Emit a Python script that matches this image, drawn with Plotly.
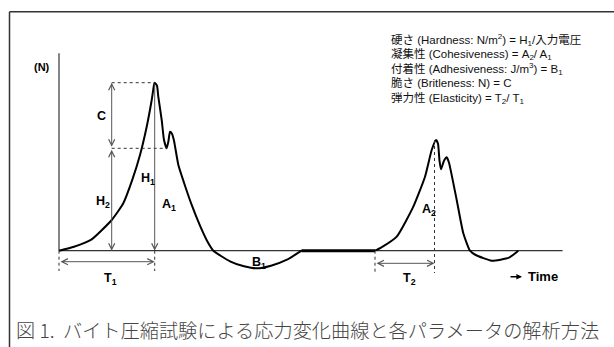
import plotly.graph_objects as go

# ---- data (time units, force units) ----
cycle1_t = [0, 15, 32.7, 52.7, 64.3, 73, 81, 87.7, 92.7, 95, 95.7, 98, 99.3, 102.7, 105, 107.7,
            109.5, 111, 113, 115, 119.3, 125, 133, 141, 148, 154.4, 171, 185, 197.5, 212, 228, 242.5]
cycle1_f = [0, 4, 11.4, 30.7, 47.4, 70, 95.7, 124, 150.7, 165.7, 168, 165, 154, 130.7, 110.7, 102.4,
            110, 119, 117, 110, 86, 68, 45, 25, 10, 0, -10.6, -15.6, -17.6, -15, -9, 0]
rest_t = [242.5, 316]
rest_f = [0, 0]
cycle2_t = [316, 322, 337.7, 354.3, 366, 372.7, 377, 379, 380.5, 382, 385, 387.7, 390, 397.7, 404.3,
            411, 416.7, 432.7, 450, 459.3]
cycle2_f = [0, 3, 14, 44, 74, 100.7, 110.7, 107, 90, 81.4, 90, 93.4, 88, 50.7, 17.4,
            0, -4.3, -10, -7, 0]
axis_end_t = 503.6
axis_top_f = 197.4
t2_end = 375.5

params = [
    "硬さ (Hardness: N/m<sup>2</sup>) = H<sub>1</sub>/入力電圧",
    "凝集性 (Cohesiveness) = A<sub>2</sub>/ A<sub>1</sub>",
    "付着性 (Adhesiveness: J/m<sup>3</sup>) = B<sub>1</sub>",
    "脆さ (Britleness: N) = C",
    "弾力性 (Elasticity) = T<sub>2</sub>/ T<sub>1</sub>",
]
caption = "図 1.  バイト圧縮試験による応力変化曲線と各パラメータの解析方法"

# derived reference values
peak_f = max(cycle1_f)
peak_t = cycle1_t[cycle1_f.index(peak_f)]
i_pk = cycle1_f.index(peak_f)
dip_f = min(cycle1_f[i_pk:i_pk + 8])
dip_t = cycle1_t[cycle1_f.index(dip_f)]
c_t = 52.7
peak2_f = max(cycle2_f)

LC = "#333333"
fig = go.Figure()

def line(xs, ys, width=1, dash=None, color=LC, shape="linear"):
    fig.add_trace(go.Scatter(x=xs, y=ys, mode="lines", hoverinfo="skip",
                             line=dict(color=color, width=width, dash=dash, shape=shape,
                                       smoothing=0.5 if shape == "spline" else None),
                             showlegend=False))

# axes
line([0, axis_end_t], [0, 0], 1.2)
line([0, 0], [0, axis_top_f], 1.2)
# curves
line(cycle1_t, cycle1_f, 2, color="#000000", shape="spline")
line(rest_t, rest_f, 3, color="#000000")
line(cycle2_t, cycle2_f, 2, color="#000000", shape="spline")

# dotted guides
line([c_t, peak_t], [peak_f, peak_f], 1, "dot")
line([c_t, dip_t], [dip_f, dip_f], 1, "dot")
line([0, 0], [0, -20.3], 1, "dot")
line([peak_t, peak_t], [0, -20.3], 1, "dot")
line([rest_t[-1], rest_t[-1]], [0, -22.3], 1, "dot")
line([t2_end, t2_end], [peak2_f, -22.3], 1, "dot")

def arrow(x0, y0, x1, y1, both=True):
    fig.add_annotation(x=x1, y=y1, ax=x0, ay=y0, xref="x", yref="y", axref="x", ayref="y",
                       text="", showarrow=True, arrowhead=5, startarrowhead=5,
                       arrowside="end+start" if both else "end",
                       arrowsize=1.2, startarrowsize=1.2, arrowwidth=1, arrowcolor="#555555",
                       standoff=0, startstandoff=0)

arrow(c_t, dip_f, c_t, peak_f)
arrow(c_t, dip_f, c_t, 0)
arrow(peak_t, peak_f, peak_t, 0, both=False)
arrow(0, -11, peak_t, -11)
arrow(rest_t[-1], -12.6, t2_end, -12.6)

# time direction arrow
fig.add_annotation(x=463, y=-26, ax=450, ay=-26, xref="x", yref="y", axref="x", ayref="y",
                   text="", showarrow=True, arrowhead=2, arrowsize=0.7, arrowwidth=1.6,
                   arrowcolor="#000000", standoff=0, startstandoff=0)

BF = dict(family="Liberation Sans, Arial, sans-serif", size=12.5, color="#000000", weight="bold")

def label(t, x, y, size=12.5):
    f = dict(BF); f["size"] = size
    fig.add_annotation(x=x, y=y, xref="x", yref="y", text=t, showarrow=False, font=f,
                       xanchor="center", yanchor="middle")

label("(N)", -16.7, 184, 11)
label("C", 42, 134.7)
label("H<sub>1</sub>", 88.5, 72)
label("H<sub>2</sub>", 44, 48.7)
label("A<sub>1</sub>", 110, 45.4)
label("B<sub>1</sub>", 200, -12)
label("A<sub>2</sub>", 369.5, 40.7)
label("T<sub>1</sub>", 51, -28)
label("T<sub>2</sub>", 350.5, -28)
label("Time", 483.5, -26, 13)

ys = [210.7, 196.4, 181.7, 168, 152.4]
for t, y in zip(params, ys):
    fig.add_annotation(x=330, y=y, xref="x", yref="y", text=t, showarrow=False,
                       xanchor="left", yanchor="middle",
                       font=dict(family="Liberation Sans, Noto Sans CJK JP, sans-serif",
                                 size=11.5, color="#111111"))

fig.add_annotation(x=307.5 - 59, y=-79.3, xref="x", yref="y", text=caption, showarrow=False,
                   xanchor="center", yanchor="middle",
                   font=dict(family="Noto Sans CJK JP, sans-serif", size=19.2, color="#444444",
                             weight=300))

# frame
fig.add_shape(type="line", xref="paper", yref="paper", x0=9.5 / 614, x1=1,
              y0=1 - 11.7 / 347, y1=1 - 11.7 / 347, line=dict(color=LC, width=1.5))
fig.add_shape(type="line", xref="paper", yref="paper", x0=9.5 / 614, x1=9.5 / 614,
              y0=0, y1=1 - 11.7 / 347, line=dict(color=LC, width=1.5))

fig.update_layout(width=614, height=347, margin=dict(l=0, r=0, t=0, b=0),
                  paper_bgcolor="white", plot_bgcolor="white", showlegend=False,
                  xaxis=dict(range=[-59, 555], visible=False, fixedrange=True),
                  yaxis=dict(range=[-96.3, 250.7], visible=False, fixedrange=True))
fig.write_html("out.html", config={"displayModeBar": False, "staticPlot": True},
               post_script="document.body.style.margin='0';document.body.style.padding='0';"
                           "document.body.style.overflow='hidden';")
